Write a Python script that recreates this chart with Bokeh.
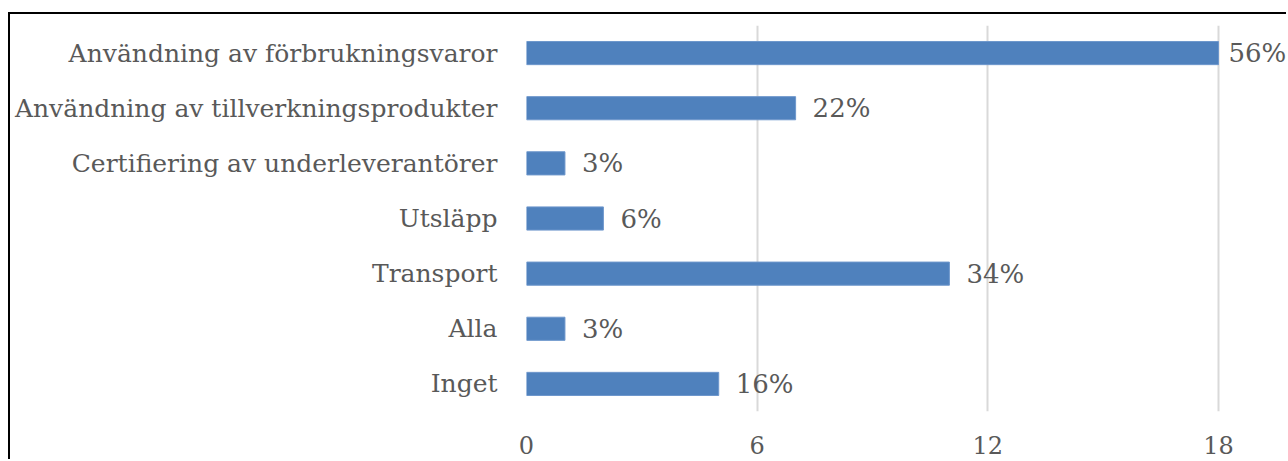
from bokeh.plotting import figure
from bokeh.models import ColumnDataSource, FixedTicker
from bokeh.core.properties import value
from bokeh.embed import file_html
from bokeh.resources import INLINE

categories = [
    "Användning av förbrukningsvaror",
    "Användning av tillverkningsprodukter",
    "Certifiering av underleverantörer",
    "Utsläpp",
    "Transport",
    "Alla",
    "Inget",
]
counts = [18, 7, 1, 2, 11, 1, 5]
percent_labels = ["56%", "22%", "3%", "6%", "34%", "3%", "16%"]
x_ticks = [0, 6, 12, 18]

FONT = "DejaVu Serif"
TXT = "#595959"

offsets = [10 if v == max(counts) else 17 for v in counts]
src = ColumnDataSource(dict(cat=categories, val=counts, lab=percent_labels, off=offsets))

p = figure(
    y_range=list(reversed(categories)),
    x_range=(0, 19.82),
    width=1278, height=447,
    output_backend="svg", toolbar_location=None,
    min_border_left=516, min_border_right=0,
    min_border_top=11, min_border_bottom=50,
    outline_line_color=None,
    styles={"border-left": "2px solid black", "border-top": "2px solid black",
            "margin-top": "12px", "margin-left": "8px"},
)

p.hbar(y="cat", right="val", left=0, height=0.42, source=src,
       fill_color="#4F81BD", line_color="#6E97CC", line_width=1)

p.text(x="val", y="cat", text="lab", x_offset="off", source=src,
       text_align="left", text_baseline="middle",
       text_font=value(FONT), text_font_size="26px", text_color=TXT)

p.y_range.range_padding = 0
p.xaxis.ticker = FixedTicker(ticks=x_ticks)
p.xgrid.ticker = FixedTicker(ticks=x_ticks)
p.xgrid.grid_line_color = "#D9D9D9"
p.xgrid.grid_line_width = 2
p.ygrid.grid_line_color = None

for ax in (p.xaxis[0], p.yaxis[0]):
    ax.axis_line_color = None
    ax.major_tick_line_color = None
    ax.minor_tick_line_color = None
    ax.major_label_text_font = FONT
    ax.major_label_text_color = TXT

p.xaxis.major_label_text_font_size = "24px"
p.yaxis.major_label_text_font_size = "25px"
p.xaxis.major_label_standoff = 18
p.yaxis.major_label_standoff = 23

open("out.html", "w").write(file_html(p, INLINE))
